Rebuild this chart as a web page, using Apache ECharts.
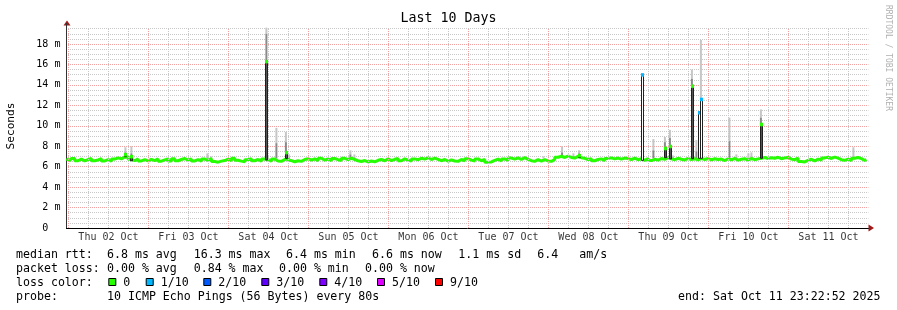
<!DOCTYPE html>
<html><head><meta charset="utf-8">
<script src="https://cdn.jsdelivr.net/npm/echarts@6/dist/echarts.min.js"></script>
<style>html,body{margin:0;padding:0;background:#fff}#c{width:897px;height:310px}</style>
</head><body><div id="c"></div>
<script>
// ---------- DATA ----------
// hours since graph start (Oct 1 23:22:52) ; baseline median rtt (ms), one value per hour
const baselineMs = [
6.76,6.60,6.80,6.58,6.74,6.56,6.70,6.80,6.58,6.66,6.78,6.56,6.68,6.54,6.74,6.86,6.76,6.94,6.98,6.72,6.58,6.76,6.56,6.70,
6.56,6.72,6.60,6.76,6.54,6.66,6.76,6.56,6.78,6.58,6.70,6.80,6.64,6.76,6.56,6.70,6.54,6.74,6.62,6.78,6.50,6.44,6.54,6.60,
6.74,6.58,6.82,6.62,6.54,6.48,6.68,6.78,6.58,6.70,6.54,6.74,6.66,6.54,6.74,6.56,6.52,6.70,6.80,6.60,6.48,6.58,6.52,6.70,
6.78,6.64,6.76,6.60,6.82,6.64,6.76,6.58,6.80,6.68,6.60,6.82,6.68,6.84,6.70,6.58,6.50,6.60,6.46,6.56,6.48,6.62,6.70,6.58,
6.76,6.60,6.72,6.80,6.58,6.76,6.64,6.56,6.76,6.68,6.82,6.74,6.86,6.70,6.84,6.72,6.58,6.70,6.54,6.66,6.56,6.52,6.70,6.58,
6.78,6.64,6.56,6.76,6.58,6.70,6.42,6.46,6.62,6.74,6.56,6.76,6.62,6.84,6.74,6.86,6.70,6.88,6.72,6.58,6.52,6.68,6.54,6.68,
6.56,6.52,6.70,6.92,7.02,6.90,7.04,6.90,6.84,7.00,6.88,6.82,6.70,6.78,6.58,6.70,6.76,6.60,6.80,6.86,6.76,6.84,6.74,6.84,
6.80,6.68,6.84,6.68,6.78,6.62,6.80,6.60,6.72,6.64,6.80,6.72,6.88,6.76,6.68,6.82,6.72,6.66,6.80,6.70,6.78,6.66,6.82,6.70,
6.80,6.66,6.78,6.70,6.74,6.60,6.78,6.66,6.80,6.64,6.72,6.78,6.64,6.80,6.68,6.76,6.82,6.90,6.80,6.88,6.82,6.92,6.78,6.86,
6.90,6.74,6.68,6.84,6.50,6.46,6.62,6.72,6.56,6.74,6.64,6.86,6.92,6.80,6.94,6.84,6.68,6.62,6.74,6.60,6.82,6.90,6.78,6.62,6.70
];
// median spikes: time (h), median (ms), loss level index
const spikeHours = [17.7, 19.5, 60.0, 65.85, 153.8, 172.7, 179.55, 181.05, 187.65, 189.7, 190.3, 208.35];
const spikeMs    = [7.2,  7.0,  16.3, 7.4,   7.1,   15.0,  7.8,    8.0,    13.9,   11.3,  12.6,  10.15];
const spikeLoss  = [0,    0,    0,    0,     0,     1,     0,      0,      0,      1,     1,     0];
// smoke (ping spread): time (h), low, dense-top, high (ms)
const smokeHours = [17.7,19.5,42.3,43.5,60.0,63.0,65.85,66.8,85.2,86.4,143.1,148.7,152.1,153.8,176.1,179.55,181.05,181.95,187.65,189.0,190.35,198.9,201.0,204.6,205.5,208.35,236.1];
const smokeLo    = [6.8, 6.8, 6.8, 6.8, 16.3,6.8, 7.4,  6.8, 6.8, 6.8, 6.8,  7.0,  6.9,  7.1,  6.8,  7.8,   8.0,   6.8,   13.9,  6.8,  12.6,  6.8,  6.8,  6.8,  6.8,  10.15, 6.8];
const smokeMid   = [7.4, 7.3, 6.9, 6.8, 19.0,8.3, 8.4,  6.9, 7.2, 6.9, 6.8,  7.4,  7.0,  7.3,  7.6,  8.4,   8.8,   6.9,   14.6,  7.5,  12.6,  8.5,  6.9,  6.9,  6.9,  10.8,  6.9];
const smokeHi    = [7.9, 8.0, 7.3, 7.0, 19.6,9.8, 9.4,  7.2, 7.6, 7.2, 7.0,  8.0,  7.3,  7.6,  8.7,  8.9,   9.6,   7.1,   15.5,  8.6,  18.4,  10.8, 7.2,  7.3,  7.4,  11.6,  7.9];
// x axis day labels
const dayLabels = ['Thu 02 Oct','Fri 03 Oct','Sat 04 Oct','Sun 05 Oct','Mon 06 Oct','Tue 07 Oct','Wed 08 Oct','Thu 09 Oct','Fri 10 Oct','Sat 11 Oct'];
const firstMidnightH = 37 / 60 + 8 / 3600;  // Oct 2 00:00 after start 23:22:52
// legend
const lossColors = ['#26ff00','#00b8ff','#0059ff','#5e00ff','#7e00ff','#dd00ff','#ff0000'];
const lossLabels = ['0','1/10','2/10','3/10','4/10','5/10','9/10'];
const rttLegend  = ['median rtt:','6.8 ms avg','16.3 ms max','6.4 ms min','6.6 ms now','1.1 ms sd','6.4','am/s'];
const lossLegend = ['packet loss:','0.00 % avg','0.84 % max','0.00 % min','0.00 % now'];
const probeLegend = ['probe:','10 ICMP Echo Pings (56 Bytes) every 80s'];
const endText = 'end: Sat Oct 11 23:22:52 2025';

// ---------- LAYOUT ----------
const rttX = [16,107,193.7,286,372,458.3,537.3,579.3];
const lossX = [16,107,193.7,279,365];
const probeX = [16,107];
const swatchX = [108.3,145.7,203.3,261.3,319.3,377,435];
const rowY = [254.5,268.5,282.5,296.5];
const MONO = "'DejaVu Sans Mono', monospace";
const legendFont = "11.6px " + MONO;
const MAJOR_GRID = '#f2a0a0';
const MINOR_GRID = '#c8c8c8';

const X_MAX = 240.6;
const Y_TOP_GRID = 19.5;

// grid lines every 6 hours
const vLines = [];
for (let k = 0; ; k++) {
  const t = firstMidnightH + 6 * k;
  if (t > X_MAX) break;
  const major = k % 4 === 0;
  vLines.push([{coord:[t,0], lineStyle:{color: major ? MAJOR_GRID : MINOR_GRID, type:[1,1], width:1}}, {coord:[t, Y_TOP_GRID]}]);
}
const noonData = dayLabels.map((d, i) => [firstMidnightH + 12 + 24 * i, 0]);

const graphics = [];
function txt(x, y, s, font, align) {
  graphics.push({type:'text', x:x, y:y, silent:true,
    style:{text:s, font:font, fill:'#000', align:align||'left', verticalAlign:'middle', textAlign:align||'left', textVerticalAlign:'middle'}});
}
txt(448.5, 19, 'Last 10 Days', "13.3px " + MONO, 'center');
graphics.push({type:'text', x:11, y:126, rotation:Math.PI/2, silent:true,
  style:{text:'Seconds', font:"11.2px " + MONO, fill:'#000', align:'center', verticalAlign:'middle', textAlign:'center', textVerticalAlign:'middle'}});
graphics.push({type:'text', x:888, y:5, rotation:-Math.PI/2, silent:true,
  style:{text:'RRDTOOL / TOBI OETIKER', font:"8px " + MONO, fill:'#b0b0b0', align:'left', verticalAlign:'middle', textAlign:'left', textVerticalAlign:'middle'}});
rttLegend.forEach((s, i) => txt(rttX[i], rowY[0], s, legendFont));
lossLegend.forEach((s, i) => txt(lossX[i], rowY[1], s, legendFont));
txt(16, rowY[2], 'loss color:', legendFont);
lossLabels.forEach((s, i) => {
  graphics.push({type:'rect', silent:true, shape:{x:swatchX[i]+0.5, y:rowY[2]-4, width:7, height:7},
    style:{fill:lossColors[i], stroke:'#000', lineWidth:1}});
  txt(swatchX[i] + 15, rowY[2], s, legendFont);
});
probeLegend.forEach((s, i) => txt(probeX[i], rowY[3], s, legendFont));
txt(880.5, rowY[3], endText, legendFont, 'right');
// axis arrows
graphics.push({type:'polygon', silent:true, shape:{points:[[63.5,25.5],[70.5,25.5],[67,20.5]]}, style:{fill:'#a01818'}});
graphics.push({type:'polygon', silent:true, shape:{points:[[868.5,224.5],[868.5,231.5],[874,228]]}, style:{fill:'#a01818'}});

const chart = echarts.init(document.getElementById('c'), null, {renderer:'canvas'});
chart.setOption({
  animation:false,
  backgroundColor:'#ffffff',
  grid:{left:66.4, top:23.56, width:802, height:204.44, containLabel:false},
  xAxis:{type:'value', min:0, max:X_MAX,
    axisLine:{show:true, onZero:true, lineStyle:{color:'#000', width:1}},
    axisTick:{show:false}, axisLabel:{show:false}, splitLine:{show:false}},
  yAxis:{type:'value', min:0, max:20, interval:2,
    axisLine:{show:true, lineStyle:{color:'#333', width:1}},
    axisTick:{show:false},
    axisLabel:{show:true, showMaxLabel:false, margin:6, color:'#000', fontFamily:MONO, fontSize:10,
      formatter:(v) => v === 0 ? '0  ' : v + ' m'},
    splitLine:{show:true, showMaxLine:false, showMinLine:false, lineStyle:{color:MAJOR_GRID, type:[1,1], dashOffset:0.4, width:1}},
    minorTick:{show:false, splitNumber:4},
    minorSplitLine:{show:true, lineStyle:{color:MINOR_GRID, type:[1,1], dashOffset:0.4, width:1}}},
  graphic:graphics,
  series:[
    {type:'line', data:[], z:1, silent:true,
      markLine:{silent:true, symbol:['none','none'], label:{show:false}, animation:false, data:vLines}},
    {type:'custom', z:2, silent:true, clip:false,
      data: smokeHours.map((t, i) => [t, smokeLo[i], smokeMid[i], smokeHi[i]]),
      renderItem:(params, api) => {
        const t = api.value(0);
        const pLo = api.coord([t, api.value(1)]);
        const pMid = api.coord([t, api.value(2)]);
        const pHi = api.coord([t, api.value(3)]);
        const w = api.size([0.6, 0])[0];
        return {type:'group', children:[
          {type:'rect', shape:{x:pLo[0]-w/2, y:pHi[1], width:w, height:Math.max(0, pMid[1]-pHi[1])}, style:{fill:'#c6c6c6'}},
          {type:'rect', shape:{x:pLo[0]-w/2, y:pMid[1], width:w, height:Math.max(0, pLo[1]-pMid[1])}, style:{fill:'#8a8a8a'}}
        ]};
      }},
    {type:'line', z:3, silent:true, symbol:'none', step:'middle',
      data: baselineMs.map((v, i) => [i, v]),
      lineStyle:{color:lossColors[0], width:3}},
    {type:'custom', z:4, silent:true, clip:false,
      data: spikeHours.map((t, i) => [t, spikeMs[i], spikeLoss[i], baselineMs[Math.round(t)]]),
      renderItem:(params, api) => {
        const t = api.value(0), v = api.value(1), loss = api.value(2), base = api.value(3);
        const pTop = api.coord([t, v]);
        const pBase = api.coord([t, base]);
        const w = api.size([0.6, 0])[0];
        const x0 = Math.round(pTop[0] - w/2) + 0.5;
        return {type:'group', children:[
          {type:'rect', shape:{x:x0, y:pTop[1], width:Math.round(w), height:pBase[1]-pTop[1]},
            style:{fill: loss > 0 ? '#ffffff' : '#555555', stroke:'#202020', lineWidth:1}},
          {type:'rect', shape:{x:x0-0.5, y:pTop[1]-1.5, width:Math.round(w)+1, height:3.5},
            style:{fill:lossColors[loss]}}
        ]};
      }},
    {type:'scatter', z:5, silent:true, clip:false, symbolSize:0, data:noonData,
      label:{show:true, position:'bottom', distance:4, color:'#000', fontFamily:MONO, fontSize:10,
        formatter:(p) => dayLabels[p.dataIndex]}}
  ]
});
</script>
</body></html>
